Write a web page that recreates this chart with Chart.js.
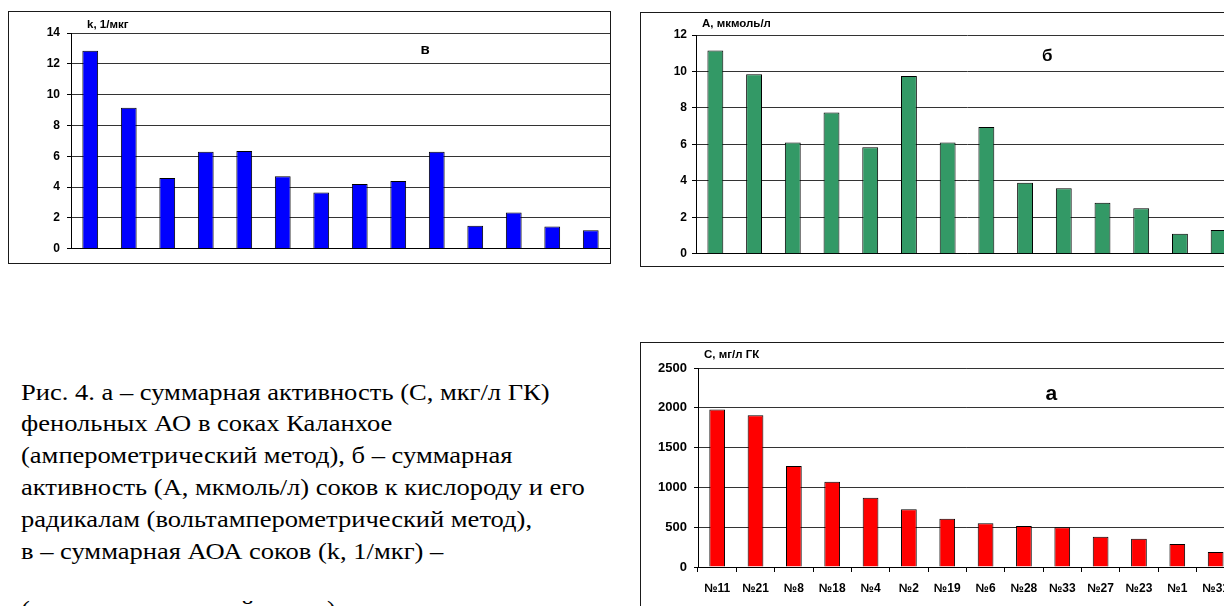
<!DOCTYPE html>
<html lang="ru">
<head>
<meta charset="utf-8">
<title>Антиоксидантная активность соков Каланхое</title>
<script src="https://cdn.jsdelivr.net/npm/chart.js@4.4.1/dist/chart.umd.min.js"></script>
<style>
  html, body { margin: 0; padding: 0; background: #fff; }
  body { width: 1224px; height: 606px; overflow: hidden; position: relative; }
  .box { position: absolute; border: 1px solid #1a1a1a; background: #fff; }
  .box canvas { position: absolute; left: 0; top: 0; }
  .caption {
    position: absolute; left: 21px;
    font-family: "Liberation Serif", "Times New Roman", serif;
    font-size: 24px; line-height: 31.8px; color: #000; white-space: nowrap;
    transform: scaleX(1.105); transform-origin: 0 0;
  }
</style>
</head>
<body>
<div class="box" style="left:8px; top:11px; width:601px; height:251px;"><canvas id="chartK" width="601" height="251"></canvas></div>
<div class="box" style="left:640px; top:12px; width:597px; height:253px;"><canvas id="chartA" width="597" height="253"></canvas></div>
<div class="box" style="left:640px; top:342px; width:597px; height:270px;"><canvas id="chartC" width="597" height="270"></canvas></div>

<div class="caption" style="top:376.7px;">
Рис. 4. а – суммарная активность (С, мкг/л ГК)<br>
фенольных АО в соках Каланхое<br>
(амперометрический метод), б – суммарная<br>
активность (А, мкмоль/л) соков к кислороду и его<br>
радикалам (вольтамперометрический метод),<br>
в – суммарная АОА соков (k, 1/мкг) –
</div>
<div class="caption" style="top:594px;">(кулонометрический метод)</div>

<script>
// Samples (juice numbers), in the order shown on every panel
const samples = ['№11', '№21', '№8', '№18', '№4', '№2', '№19', '№6', '№28', '№33', '№27', '№23', '№1', '№31'];

// в – total AOA, k, 1/мкг
const kValues = [12.85, 9.15, 4.6, 6.3, 6.35, 4.7, 3.65, 4.2, 4.4, 6.3, 1.5, 2.35, 1.45, 1.2];
// б – activity towards oxygen and its radicals, A, мкмоль/л
const aValues = [11.15, 9.85, 6.1, 7.75, 5.85, 9.75, 6.1, 6.95, 3.9, 3.6, 2.8, 2.5, 1.1, 1.3];
// а – total phenolic antioxidant activity, C, мг/л ГК
const cValues = [1980, 1905, 1270, 1070, 870, 725, 605, 550, 515, 500, 380, 355, 290, 190];

// Value-axis ranges: [max, step]
const kAxis = [14, 2];
const aAxis = [12, 2];
const cAxis = [2500, 500];

const FONT = '"Liberation Sans", Arial, sans-serif';

// Draws the unit caption above the value axis and the panel letter
const panelText = {
  id: 'panelText',
  afterDraw(chart, args, o) {
    const { ctx, chartArea: a } = chart;
    ctx.save();
    ctx.fillStyle = '#000';
    ctx.textBaseline = 'alphabetic';
    ctx.textAlign = 'left';
    ctx.font = 'bold ' + o.unitSize + 'px ' + FONT;
    ctx.fillText(o.unit, a.left + o.unitDx, a.top + o.unitDy);
    ctx.textAlign = 'center';
    ctx.font = 'bold ' + o.letterSize + 'px ' + FONT;
    ctx.fillText(o.letter, a.left + (a.right - a.left) * o.letterX, a.top + o.letterDy);
    ctx.restore();
  }
};

function panel(id, values, color, axis, frame, text) {
  return new Chart(document.getElementById(id), {
    type: 'bar',
    data: {
      labels: samples,
      datasets: [{
        data: values,
        backgroundColor: color,
        borderColor: '#000',
        borderWidth: 1,
        barPercentage: 0.41,
        categoryPercentage: 1
      }]
    },
    plugins: [panelText],
    options: {
      responsive: false,
      animation: false,
      devicePixelRatio: 1,
      layout: { padding: { top: frame.top, left: 0, right: 0, bottom: 0 } },
      plugins: {
        legend: { display: false },
        tooltip: { enabled: false },
        panelText: text
      },
      scales: {
        y: {
          min: 0,
          max: axis[0],
          ticks: {
            stepSize: axis[1],
            color: '#000',
            padding: frame.tickPad,
            font: { family: FONT, size: frame.yFont, weight: 'bold' },
            callback: v => String(v)
          },
          grid: { color: '#333', lineWidth: 1, tickLength: 4, tickColor: '#000' },
          border: { color: '#000', width: 1 },
          afterFit: s => { s.width = frame.left; }
        },
        x: {
          grid: {
            display: frame.labels,
            drawOnChartArea: false,
            tickLength: 5,
            tickColor: '#000'
          },
          ticks: {
            display: frame.labels,
            color: '#000',
            padding: 9,
            autoSkip: false,
            maxRotation: 0,
            font: { family: FONT, size: 12, weight: 'bold' }
          },
          border: { color: '#000', width: 1 },
          afterFit: s => { s.height = frame.bottom; }
        }
      }
    }
  });
}

panel('chartK', kValues, '#0000FF', kAxis,
  { left: 62, top: 21, bottom: 11, tickPad: 7, yFont: 12, labels: false },
  { unit: 'k, 1/мкг', unitSize: 11.5, unitDx: 16, unitDy: -4.7,
    letter: 'в', letterSize: 15, letterX: 0.657, letterDy: 20.7 });

panel('chartA', aValues, '#339966', aAxis,
  { left: 55, top: 22, bottom: 9, tickPad: 5, yFont: 12, labels: false },
  { unit: 'А, мкмоль/л', unitSize: 11.5, unitDx: 6, unitDy: -7.7,
    letter: 'б', letterSize: 17, letterX: 0.648, letterDy: 25.7 });

panel('chartC', cValues, '#FF0000', cAxis,
  { left: 57, top: 25, bottom: 46, tickPad: 7, yFont: 13, labels: true },
  { unit: 'С, мг/л ГК', unitSize: 11.5, unitDx: 6, unitDy: -10.4,
    letter: 'а', letterSize: 21, letterX: 0.658, letterDy: 31.6 });
</script>
</body>
</html>
